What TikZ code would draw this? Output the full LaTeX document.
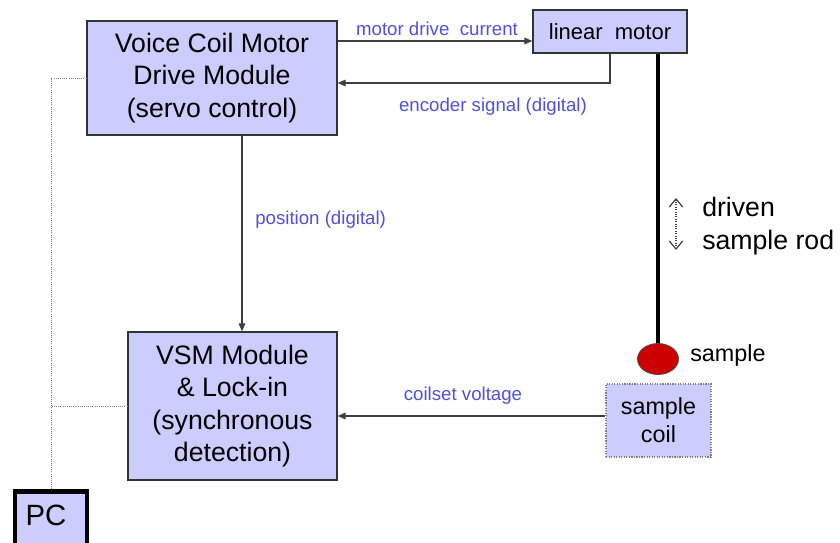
\documentclass[tikz,border=0pt]{standalone}
\usepackage{fontspec}
\setmainfont{Liberation Sans}
\usetikzlibrary{shapes.geometric, arrows.meta, positioning, calc}
\definecolor{boxFill}{RGB}{204,204,255}
\definecolor{sigBlue}{RGB}{80,80,220}
\definecolor{sampleRed}{RGB}{204,0,0}

\begin{document}
\begin{tikzpicture}[x=0.75pt, y=-0.75pt,
    module/.style={draw=black!80, line width=0.9pt, fill=boxFill, align=center, inner sep=0pt, font=\fontsize{20}{24.4}\selectfont},
    signal/.style={text=sigBlue, inner sep=0pt, font=\fontsize{14}{16}\selectfont},
    wire/.style={draw=black!75, line width=0.8pt, -{Triangle[length=6pt,width=5pt]}},
    pcline/.style={draw=gray, densely dotted, line width=0.6pt}]
  \clip (0,0) rectangle (840,543);

  % blocks
  \node[module, minimum width=187.5pt, minimum height=85.5pt] (vcm) at (212,78) {Voice Coil Motor\\Drive Module\\(servo control)};
  \node[module, minimum width=115.5pt, minimum height=32.25pt, font=\fontsize{16.5}{19}\selectfont] (motor) at (610,31.5) {linear~~motor};
  \node[module, minimum width=156.75pt, minimum height=111pt] (vsm) at (232.5,406) {VSM Module\\\& Lock-in\\(synchronous\\detection)};
  \node[module, draw=gray, densely dotted, minimum width=78.75pt, minimum height=54.75pt, font=\fontsize{17.5}{21}\selectfont] (coil) at (658.5,420.5) {sample\\coil};
  \node[module, draw=black, line width=3.4pt, anchor=north, text width=54pt, align=left, text height=26pt, text depth=30pt, font=\fontsize{22}{26}\selectfont] (pc) at (51,489) {\hspace*{8pt}PC};
  \node[ellipse, draw=black!70, line width=0.6pt, fill=sampleRed, minimum width=30.75pt, minimum height=23.25pt, inner sep=0pt] (sample) at (658,359) {};

  % helper coordinates
  \coordinate (drive) at (0,41);
  \coordinate (posx) at (242,0);
  \coordinate (volt) at (0,416);
  \coordinate (rodup) at (676,198);
  \coordinate (roddown) at (676,250);

  % connectors
  \draw[wire] (vcm.east |- drive) -- (motor.west |- drive);
  \draw[wire] (motor.south) |- ($(vcm.east)+(0,5)$);
  \draw[wire] (vcm.south -| posx) -- (vsm.north -| posx);
  \draw[wire] (coil.west |- volt) -- (vsm.east |- volt);
  \draw[line width=3pt] (motor.south -| sample) -- (sample.north);
  \draw[pcline] (vcm.west) -| (pc.north);
  \draw[pcline] (vsm.west) -- (vsm.west -| pc.north);
  \draw[draw=black!75, densely dotted, line width=0.8pt, {Straight Barb[length=6pt,width=10pt,line width=0.9pt]}-{Straight Barb[length=6pt,width=10pt,line width=0.9pt]}] (rodup) -- (roddown);

  % labels
  \node[signal, anchor=base] (drivelbl) at (437,35) {motor drive~~current};
  \node[signal, anchor=base] (enclbl) at (493,111) {encoder signal (digital)};
  \node[signal, anchor=base west] (poslbl) at (255,224) {position (digital)};
  \node[signal, anchor=base] (voltlbl) at (463,400) {coilset voltage};
  \node[anchor=base west, inner sep=0pt, font=\fontsize{17.5}{21}\selectfont] (samplelbl) at (690,361) {sample};
  \node[anchor=west, align=left, inner sep=0pt, font=\fontsize{20}{24.75}\selectfont] (rodlbl) at (702,226.5) {driven\\sample rod};
\end{tikzpicture}
\end{document}
